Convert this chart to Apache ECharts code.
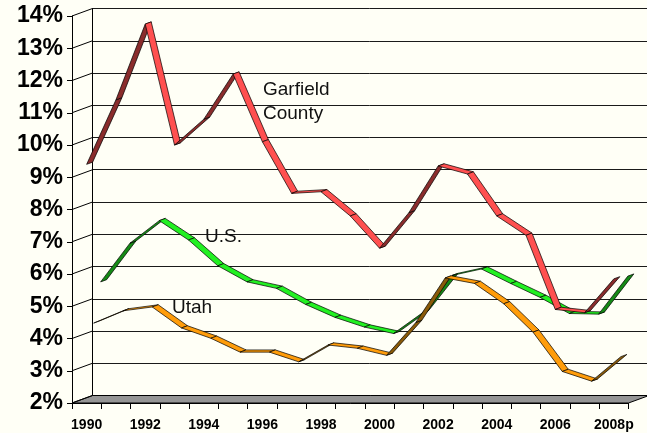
<!DOCTYPE html>
<html>
<head>
<meta charset="utf-8">
<script src="https://cdn.jsdelivr.net/npm/echarts@6/dist/echarts.min.js"></script>
<style>
html,body{margin:0;padding:0;background:#FFFFF6;}
#c{width:647px;height:433px;}
</style>
</head>
<body>
<div id="c"></div>
<script>
const years = ['1990','1991','1992','1993','1994','1995','1996','1997','1998','1999','2000','2001','2002','2003','2004','2005','2006','2007','2008p'];
const garfield = [9.4,11.4,13.75,10.0,10.8,12.2,10.1,8.5,8.55,7.8,6.8,7.9,9.35,9.1,7.8,7.2,4.9,4.8,5.85];
const us = [5.6,6.8,7.5,6.9,6.1,5.6,5.4,4.9,4.5,4.2,4.0,4.65,5.8,6.0,5.55,5.12,4.62,4.6,5.78];
const utah = [4.4,4.78,4.9,4.25,3.93,3.5,3.5,3.2,3.72,3.62,3.4,4.42,5.8,5.63,5.0,4.12,2.9,2.6,3.36];
const yTicks = [2,3,4,5,6,7,8,9,10,11,12,13,14];

const WALL_DX = 20.5, WALL_DY = -7.5;
const RIB_T = [6, -2.2];

function segData(vals){
  const d = [];
  for (let i = 0; i < vals.length - 1; i++) d.push([i, vals[i], i + 1, vals[i + 1]]);
  return d;
}

function ribbon(name, vals, sx, sy, bright, dark, z){
  return {
    type: 'custom', name: name, xAxisIndex: 0, yAxisIndex: 0, z: z,
    dimensions: ['x1','y1','x2','y2'],
    encode: {x: [0, 2], y: [1, 3]},
    data: segData(vals),
    silent: true,
    renderItem: function(params, api){
      const p1 = api.coord([api.value(0), api.value(1)]);
      const p2 = api.coord([api.value(2), api.value(3)]);
      const a = [p1[0] + sx, p1[1] + sy];
      const b = [p2[0] + sx, p2[1] + sy];
      const c = [b[0] + RIB_T[0], b[1] + RIB_T[1]];
      const d = [a[0] + RIB_T[0], a[1] + RIB_T[1]];
      const dx = b[0] - a[0], dy = b[1] - a[1];
      const cross = dx * RIB_T[1] - dy * RIB_T[0];
      return {
        type: 'polygon',
        shape: {points: [a, b, c, d]},
        style: {fill: cross < 0 ? bright : dark, stroke: '#000', lineWidth: 0.7}
      };
    }
  };
}

const chart = echarts.init(document.getElementById('c'), null, {renderer: 'canvas'});
chart.setOption({
  backgroundColor: '#FFFFF6',
  animation: false,
  grid: [
    {left: 72, right: 18.5, top: 16, bottom: 30},
    {left: 92.5, right: -2, top: 8.5, bottom: 37.5}
  ],
  xAxis: [
    {
      type: 'category', gridIndex: 0, data: years, boundaryGap: true,
      axisLine: {show: true, lineStyle: {color: '#000', width: 1}},
      axisTick: {show: true, interval: 0, length: 6, lineStyle: {color: '#000'}},
      axisLabel: {interval: 1, margin: 15, color: '#000', fontSize: 14, fontWeight: 'bold', fontFamily: 'Liberation Sans, Arial, sans-serif'},
      splitLine: {show: false}
    },
    {type: 'value', gridIndex: 1, show: false, min: 0, max: 1}
  ],
  yAxis: [
    {
      type: 'value', gridIndex: 0, min: 2, max: 14, interval: 1,
      axisLine: {show: true, lineStyle: {color: '#000', width: 1}},
      axisTick: {show: true, length: 5, lineStyle: {color: '#000'}},
      axisLabel: {margin: 9, color: '#000', fontSize: 23, fontWeight: 'bold', fontFamily: 'Liberation Sans, Arial, sans-serif', formatter: '{value}%'},
      splitLine: {show: false}
    },
    {
      type: 'value', gridIndex: 1, min: 2, max: 14, interval: 1,
      axisLine: {show: true, lineStyle: {color: '#000', width: 1}},
      axisTick: {show: false},
      axisLabel: {show: false},
      splitLine: {show: true, lineStyle: {color: '#1a1a1a', width: 1}}
    }
  ],
  graphic: [
    {type: 'text', left: 263, top: 80, z: 20, style: {text: 'Garfield', font: '19px "Liberation Sans", Arial, sans-serif', fill: '#111', textVerticalAlign: 'middle'}},
    {type: 'text', left: 263, top: 104, z: 20, style: {text: 'County', font: '19px "Liberation Sans", Arial, sans-serif', fill: '#111'}},
    {type: 'text', left: 205, top: 227, z: 20, style: {text: 'U.S.', font: '19px "Liberation Sans", Arial, sans-serif', fill: '#111'}},
    {type: 'text', left: 172, top: 298, z: 20, style: {text: 'Utah', font: '19px "Liberation Sans", Arial, sans-serif', fill: '#111'}}
  ],
  series: [
    {
      type: 'custom', name: 'floor', xAxisIndex: 0, yAxisIndex: 0, z: 3, silent: true,
      data: [[0, 2]],
      renderItem: function(params, api){
        const cs = params.coordSys;
        const yb = cs.y + cs.height;
        return {
          type: 'polygon',
          shape: {points: [[cs.x, yb], [cs.x + cs.width, yb], [cs.x + cs.width + WALL_DX, yb + WALL_DY], [cs.x + WALL_DX, yb + WALL_DY]]},
          style: {fill: '#959595', stroke: '#000', lineWidth: 1}
        };
      }
    },
    {
      type: 'custom', name: 'connectors', xAxisIndex: 0, yAxisIndex: 0, z: 3, silent: true,
      data: yTicks.map(v => [0, v]),
      renderItem: function(params, api){
        const cs = params.coordSys;
        const y = api.coord([0, api.value(1)])[1];
        return {
          type: 'line',
          shape: {x1: cs.x, y1: y, x2: cs.x + WALL_DX, y2: y + WALL_DY},
          style: {stroke: '#000', lineWidth: 1}
        };
      }
    },
    ribbon('U.S.', us, 14, -5, '#22F022', '#158A15', 5),
    ribbon('Utah', utah, 7, -2.5, '#FF9C0A', '#8A5A08', 6),
    ribbon('Garfield County', garfield, 0, 0, '#FF5050', '#8A2C2C', 7)
  ]
});
</script>
</body>
</html>
